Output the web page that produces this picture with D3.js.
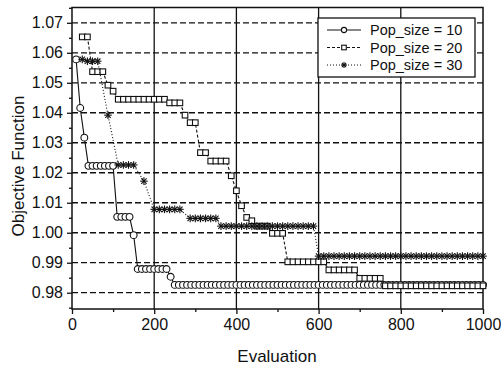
<!DOCTYPE html>
<html>
<head>
<meta charset="utf-8">
<script src="https://cdn.jsdelivr.net/npm/d3@7"></script>
<style>
  body { margin: 0; background: #fff; }
  text { font-family: Arial, "Liberation Sans", sans-serif; fill: #111; }
</style>
</head>
<body>
<svg id="chart" width="501" height="367"></svg>
<script>
// evaluation grids (pop 10 sampled every 10 evals, the others every 12.5)
var evals10 = d3.range(10, 1001, 10);
var evals20 = d3.range(12.5, 1001, 12.5);

var pop10 = [
  1.0578, 1.0416, 1.0317, 1.0223, 1.0223, 1.0223, 1.0223, 1.0223, 1.0223, 1.0223,
  1.0053, 1.0053, 1.0053, 1.0053, 0.9992, 0.9879, 0.9879, 0.9879, 0.9879, 0.9879,
  0.9879, 0.9879, 0.9879, 0.9853, 0.9826, 0.9826, 0.9826, 0.9826, 0.9826, 0.9826,
  0.9826, 0.9826, 0.9826, 0.9826, 0.9826, 0.9826, 0.9826, 0.9826, 0.9826, 0.9826,
  0.9826, 0.9826, 0.9826, 0.9826, 0.9826, 0.9826, 0.9826, 0.9826, 0.9826, 0.9826,
  0.9826, 0.9826, 0.9826, 0.9826, 0.9826, 0.9826, 0.9826, 0.9826, 0.9826, 0.9826,
  0.9826, 0.9826, 0.9826, 0.9826, 0.9826, 0.9826, 0.9826, 0.9826, 0.9826, 0.9826,
  0.9826, 0.9826, 0.9826, 0.9826, 0.9826, 0.9826, 0.9826, 0.9826, 0.9826, 0.9826,
  0.9826, 0.9826, 0.9826, 0.9826, 0.9826, 0.9826, 0.9826, 0.9826, 0.9826, 0.9826,
  0.9826, 0.9826, 0.9826, 0.9826, 0.9826, 0.9826, 0.9826, 0.9826, 0.9826, 0.9826
];

var pop20 = [
  null, 1.0653, 1.0653, 1.0537, 1.0537, 1.0537, 1.0492, 1.0472, 1.0445, 1.0445,
  1.0445, 1.0445, 1.0445, 1.0445, 1.0445, 1.0445, 1.0445, 1.0445, 1.0433, 1.0433,
  1.0433, 1.0392, 1.0367, 1.0367, 1.0267, 1.0267, 1.0239, 1.0239, 1.0239, 1.0239,
  1.0190, 1.0140, 1.0090, 1.0051, 1.0040, 1.0022, 1.0022, 1.0022, 0.9998, 0.9998,
  0.9998, 0.9903, 0.9903, 0.9903, 0.9903, 0.9903, 0.9903, 0.9903, 0.9903, 0.9876,
  0.9876, 0.9876, 0.9876, 0.9876, 0.9876, 0.9848, 0.9848, 0.9848, 0.9848, 0.9848,
  0.9823, 0.9823, 0.9823, 0.9823, 0.9823, 0.9823, 0.9823, 0.9823, 0.9823, 0.9823,
  0.9823, 0.9823, 0.9823, 0.9823, 0.9823, 0.9823, 0.9823, 0.9823, 0.9823, 0.9823
];

var pop30 = [
  null, 1.0578, 1.0572, 1.0572, 1.0572, null, 1.0392, null, 1.0226, 1.0226,
  1.0226, 1.0226, null, 1.0172, null, 1.0078, 1.0078, 1.0078, 1.0078, 1.0078,
  1.0078, null, 1.0048, 1.0048, 1.0048, 1.0048, 1.0048, 1.0048, 1.0022, 1.0022,
  1.0022, 1.0022, 1.0022, 1.0022, 1.0022, 1.0022, 1.0022, 1.0022, 1.0022, 1.0022,
  1.0022, 1.0022, 1.0022, 1.0022, 1.0022, 1.0022, 1.0022, 0.9922, 0.9922, 0.9922,
  0.9922, 0.9922, 0.9922, 0.9922, 0.9922, 0.9922, 0.9922, 0.9922, 0.9922, 0.9922,
  0.9922, 0.9922, 0.9922, 0.9922, 0.9922, 0.9922, 0.9922, 0.9922, 0.9922, 0.9922,
  0.9922, 0.9922, 0.9922, 0.9922, 0.9922, 0.9922, 0.9922, 0.9922, 0.9922, 0.9922
];

var xTicks = [0, 200, 400, 600, 800, 1000];
var yTicks = [0.98, 0.99, 1.00, 1.01, 1.02, 1.03, 1.04, 1.05, 1.06, 1.07];
var legendLabels = ['Pop_size = 10', 'Pop_size = 20', 'Pop_size = 30'];

var svg = d3.select('#chart');
var x = d3.scaleLinear().domain([0, 1000]).range([72, 483]);
var y = d3.scaleLinear().domain([0.97457, 1.0751]).range([309, 7.5]);

// grid
svg.append('g')
  .selectAll('line')
  .data(yTicks)
  .enter()
  .append('line')
  .attr('x1', x(0)).attr('x2', x(1000))
  .attr('y1', d => y(d)).attr('y2', d => y(d))
  .attr('stroke', '#111')
  .attr('stroke-width', 1.3)
  .attr('stroke-dasharray', '6,3');

svg.append('g')
  .selectAll('line')
  .data(xTicks.slice(1, -1))
  .enter()
  .append('line')
  .attr('x1', d => x(d)).attr('x2', d => x(d))
  .attr('y1', y.range()[0]).attr('y2', y.range()[1])
  .attr('stroke', '#111')
  .attr('stroke-width', 1.3);

// axes
var xAxis = svg.append('g')
  .attr('transform', 'translate(0,' + y.range()[0] + ')')
  .call(d3.axisBottom(x).tickValues(xTicks).tickSize(5).tickPadding(5).tickFormat(d3.format('d')));
var xMinor = svg.append('g')
  .attr('transform', 'translate(0,' + y.range()[0] + ')')
  .call(d3.axisBottom(x).tickValues([100, 300, 500, 700, 900]).tickSize(3).tickFormat(''));
var yAxis = svg.append('g')
  .attr('transform', 'translate(' + x(0) + ',0)')
  .call(d3.axisLeft(y).tickValues(yTicks).tickSize(5).tickPadding(4).tickFormat(d3.format('.2f')));
var yMinor = svg.append('g')
  .attr('transform', 'translate(' + x(0) + ',0)')
  .call(d3.axisLeft(y).tickValues(yTicks.map(d => d + 0.005).concat([0.975])).tickSize(3).tickFormat(''));

[xAxis, xMinor, yAxis, yMinor].forEach(function(g) {
  g.select('.domain').remove();
  g.selectAll('line').attr('stroke', '#111').attr('stroke-width', 1.3);
  g.selectAll('text').style('font-size', '16px').attr('fill', '#111');
});

svg.append('rect')
  .attr('x', x(0)).attr('y', y.range()[1])
  .attr('width', x(1000) - x(0))
  .attr('height', y.range()[0] - y.range()[1])
  .attr('fill', 'none')
  .attr('stroke', '#111')
  .attr('stroke-width', 1.5);

// axis titles
svg.append('text')
  .attr('x', 277).attr('y', 362)
  .attr('text-anchor', 'middle')
  .style('font-size', '17px')
  .text('Evaluation');
svg.append('text')
  .attr('transform', 'translate(24,166) rotate(-90)')
  .attr('text-anchor', 'middle')
  .style('font-size', '17px')
  .text('Objective Function');

// series
var series = [
  { xs: evals10, ys: pop10, dash: null, marker: 'circle' },
  { xs: evals20, ys: pop20, dash: '3,2', marker: 'square' },
  { xs: evals20, ys: pop30, dash: '1,2', marker: 'star' }
];

function drawMarker(g, kind, size) {
  if (kind === 'circle') {
    g.append('circle').attr('r', size).attr('fill', '#fff').attr('stroke', '#111').attr('stroke-width', 1.1);
  } else if (kind === 'square') {
    g.append('rect').attr('x', -size).attr('y', -size)
      .attr('width', size * 2).attr('height', size * 2)
      .attr('fill', '#fff').attr('stroke', '#111').attr('stroke-width', 1.1);
  } else {
    var d = size * 0.707;
    [[-size, 0, size, 0], [0, -size, 0, size], [-d, -d, d, d], [-d, d, d, -d]].forEach(function(l) {
      g.append('line').attr('x1', l[0]).attr('y1', l[1]).attr('x2', l[2]).attr('y2', l[3])
        .attr('stroke', '#111').attr('stroke-width', 1.1);
    });
  }
}

var line = d3.line().x(d => x(d[0])).y(d => y(d[1]));

series.forEach(function(s) {
  var pts = s.xs.map((e, i) => [e, s.ys[i]]).filter(p => p[1] != null);
  svg.append('path')
    .datum(pts)
    .attr('d', line)
    .attr('fill', 'none')
    .attr('stroke', '#111')
    .attr('stroke-width', 1.1)
    .attr('stroke-dasharray', s.dash);
  var size = s.marker === 'circle' ? 3.4 : s.marker === 'square' ? 2.8 : 3.8;
  svg.append('g')
    .selectAll('g')
    .data(pts)
    .enter()
    .append('g')
    .attr('transform', d => 'translate(' + x(d[0]) + ',' + y(d[1]) + ')')
    .each(function() { drawMarker(d3.select(this), s.marker, size); });
});

// legend
var legend = svg.append('g');
legend.append('rect')
  .attr('x', 318).attr('y', 18)
  .attr('width', 157).attr('height', 59)
  .attr('fill', '#fff')
  .attr('stroke', '#111')
  .attr('stroke-width', 1.3);

var rows = legend.selectAll('g.row')
  .data(series)
  .enter()
  .append('g')
  .attr('class', 'row')
  .attr('transform', (d, i) => 'translate(0,' + (30 + i * 17.5) + ')');

rows.append('line')
  .attr('x1', 327).attr('x2', 361)
  .attr('stroke', '#111')
  .attr('stroke-width', 1.1)
  .attr('stroke-dasharray', d => d.dash);
rows.append('g')
  .attr('transform', 'translate(344,0)')
  .each(function(d) {
    var s = d.marker === 'circle' ? 2.6 : d.marker === 'square' ? 2.3 : 3;
    drawMarker(d3.select(this), d.marker, s);
  });
rows.append('text')
  .attr('x', 370).attr('y', 5)
  .style('font-size', '14.5px')
  .text((d, i) => legendLabels[i]);
</script>
</body>
</html>
